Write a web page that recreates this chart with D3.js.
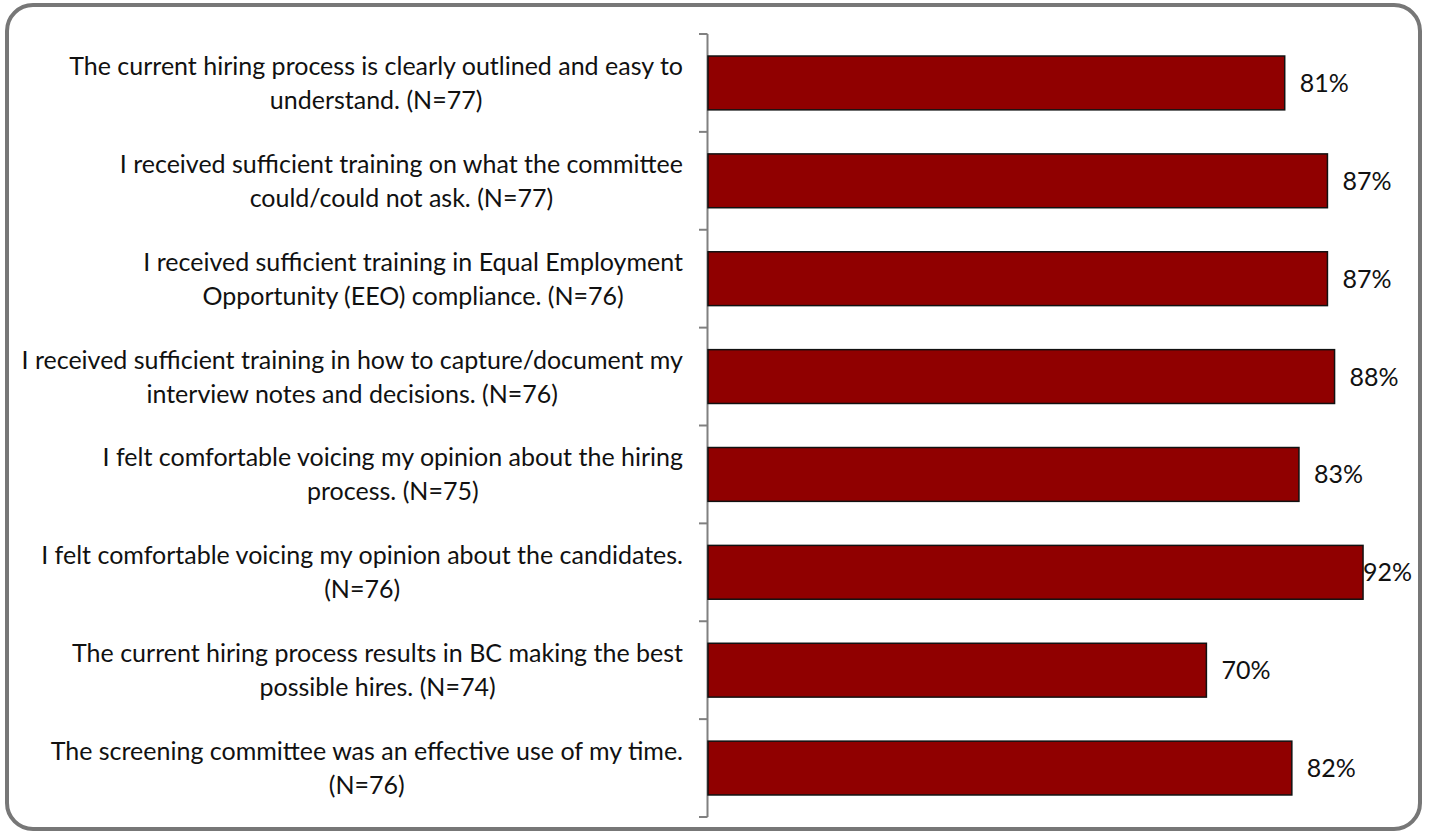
<!DOCTYPE html>
<html>
<head>
<meta charset="utf-8">
<script src="https://cdn.jsdelivr.net/npm/d3@7"></script>
<style>
  html, body { margin: 0; padding: 0; background: #fff; }
  svg { display: block; font-family: Lato, "Open Sans", sans-serif; }
</style>
</head>
<body>
<div id="chart"></div>
<script>
// Hiring committee survey - percent agreeing, horizontal bars

// Question labels, one entry per wrapped line
const questions = [
  ["The current hiring process is clearly outlined and easy to", "understand. (N=77)"],
  ["I received sufficient training on what the committee", "could/could not ask. (N=77)"],
  ["I received sufficient training in Equal Employment", "Opportunity (EEO) compliance. (N=76)"],
  ["I received sufficient training in how to capture/document my", "interview notes and decisions. (N=76)"],
  ["I felt comfortable voicing my opinion about the hiring", "process. (N=75)"],
  ["I felt comfortable voicing my opinion about the candidates.", "(N=76)"],
  ["The current hiring process results in BC making the best", "possible hires. (N=74)"],
  ["The screening committee was an effective use of my time.", "(N=76)"]
];
const percents = [0.81, 0.87, 0.87, 0.88, 0.83, 0.92, 0.70, 0.82];

const width = 1429;
const height = 833;
const fontSize = 25;
const format = d3.format(".0%");

const svg = d3.select("#chart")
  .append("svg")
  .attr("width", width)
  .attr("height", height);

// Rounded grey frame round the whole chart
svg.append("rect")
  .attr("x", 7)
  .attr("y", 5)
  .attr("width", 1413)
  .attr("height", 824)
  .attr("rx", 26)
  .attr("fill", "none")
  .attr("stroke", "#777")
  .attr("stroke-width", 4);

const x = d3.scaleLinear()
  .domain([0, 1])
  .range([708, 1420]);

const y = d3.scaleBand()
  .domain(d3.range(questions.length))
  .range([34, 817])
  .paddingInner(0.45)
  .paddingOuter(0.225);

// Band edges for the axis ticks
const edges = d3.range(questions.length + 1)
  .map(i => 34 + i * (817 - 34) / questions.length);

const axis = svg.append("g").attr("stroke", "#808080").attr("stroke-width", 2);

axis.append("line")
  .attr("x1", x(0) - 0.5).attr("x2", x(0) - 0.5)
  .attr("y1", edges[0]).attr("y2", edges[edges.length - 1]);

axis.selectAll("line.tick")
  .data(edges)
  .join("line")
    .attr("class", "tick")
    .attr("x1", x(0) - 9).attr("x2", x(0) - 0.5)
    .attr("y1", d => d).attr("y2", d => d);

// Bars
svg.append("g")
  .selectAll("rect")
  .data(percents)
  .join("rect")
    .attr("x", x(0))
    .attr("y", (d, i) => y(i))
    .attr("width", d => x(d) - x(0))
    .attr("height", y.bandwidth())
    .attr("fill", "#900000")
    .attr("stroke", "#111")
    .attr("stroke-width", 1.5);

// Value labels, pushed back inside the plot area when they would overflow
const maxRight = 1412;
svg.append("g")
  .attr("font-size", fontSize)
  .attr("fill", "#111")
  .selectAll("text")
  .data(percents)
  .join("text")
    .attr("y", (d, i) => y(i) + y.bandwidth() / 2 + 9)
    .text(d => format(d))
    .attr("x", function(d) {
      const w = this.getComputedTextLength();
      return Math.min(x(d) + 15, maxRight - w);
    });

// Question labels: lines centred on each other, block right-aligned to the axis
const labelRight = 683;
const lineGap = 34;

const labels = svg.append("g")
  .attr("font-size", fontSize)
  .attr("fill", "#111")
  .selectAll("g")
  .data(questions)
  .join("g");

labels.each(function(lines, i) {
  const g = d3.select(this);
  const mid = y(i) + y.bandwidth() / 2;
  const texts = g.selectAll("text")
    .data(lines)
    .join("text")
      .attr("y", (d, j) => mid + (j - (lines.length - 1) / 2) * lineGap + 9)
      .text(d => d);
  const widths = texts.nodes().map(n => n.getComputedTextLength());
  const boxW = d3.max(widths);
  const centre = labelRight - boxW / 2;
  texts.attr("x", centre).attr("text-anchor", "middle");
});
</script>
</body>
</html>
